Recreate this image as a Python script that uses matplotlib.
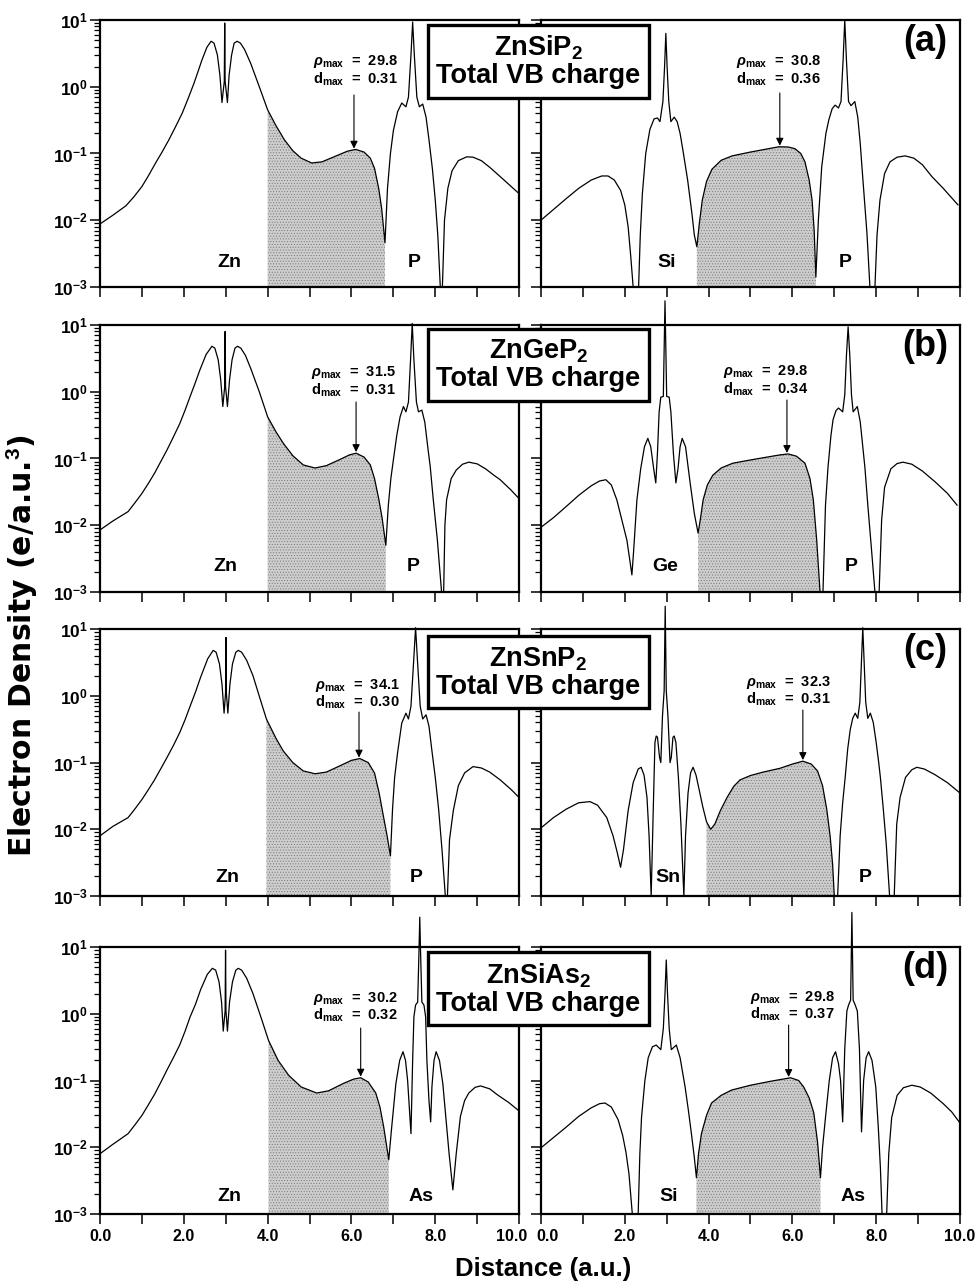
import matplotlib
matplotlib.use("Agg")
import matplotlib.pyplot as plt
import matplotlib.transforms as mtransforms
from matplotlib.ticker import FixedLocator, NullFormatter, FixedFormatter
import numpy as np

plt.rcParams['font.family'] = ['Liberation Sans', 'DejaVu Sans']
plt.rcParams['font.weight'] = 'bold'
plt.rcParams['mathtext.fontset'] = 'custom'
plt.rcParams['mathtext.rm'] = 'Liberation Sans:bold'
plt.rcParams['mathtext.it'] = 'Liberation Sans:italic:bold'
plt.rcParams['mathtext.bf'] = 'Liberation Sans:bold'
plt.rcParams['hatch.linewidth'] = 0.4

# ---- data: electron density along bond paths ----
# (a) ZnSiP2
a_left_x = [0.0, 0.3, 0.62, 0.81, 1.0, 1.16, 1.32, 1.48, 1.64, 1.8, 1.96, 2.1, 2.24, 2.34, 2.43,
            2.55, 2.65, 2.72, 2.8, 2.86, 2.91, 2.965, 2.975, 2.985, 3.04, 3.08, 3.14, 3.2, 3.27,
            3.35, 3.45, 3.6, 3.8, 4.0, 4.2, 4.4, 4.6, 4.8, 5.05, 5.3, 5.6, 5.9, 6.1, 6.3, 6.45,
            6.55, 6.65, 6.72, 6.8, 6.86, 6.93, 7.0, 7.1, 7.2, 7.3, 7.36, 7.42, 7.46, 7.5, 7.56,
            7.62, 7.7, 7.78, 7.85, 7.93, 8.0, 8.06, 8.12, 8.17, 8.22, 8.3, 8.4, 8.55, 8.75, 8.9,
            9.1, 9.3, 9.5, 9.7, 10.0]
a_left_y = [0.0088, 0.0118, 0.0165, 0.0225, 0.032, 0.047, 0.071, 0.105, 0.159, 0.25, 0.40, 0.66,
            1.12, 1.7, 2.5, 3.9, 4.8, 4.5, 3.0, 1.5, 0.58, 1.2, 9.0, 1.2, 0.58, 1.5, 3.0, 4.5,
            4.8, 4.5, 3.6, 2.2, 1.0, 0.45, 0.26, 0.16, 0.11, 0.085, 0.072, 0.075, 0.09, 0.108,
            0.115, 0.105, 0.085, 0.06, 0.03, 0.015, 0.0046, 0.03, 0.1, 0.22, 0.42, 0.57, 0.5,
            0.7, 3.0, 9.3, 3.0, 0.7, 0.5, 0.55, 0.35, 0.16, 0.06, 0.02, 0.006, 0.001, 0.001,
            0.01, 0.03, 0.055, 0.078, 0.089, 0.088, 0.078, 0.062, 0.048, 0.037, 0.025]
a_right_x = [0.0, 0.3, 0.6, 0.9, 1.2, 1.45, 1.6, 1.75, 1.9, 2.0, 2.08, 2.14, 2.2, 2.33, 2.37, 2.42,
             2.5, 2.6, 2.7, 2.78, 2.84, 2.91, 2.95, 2.98, 3.01, 3.05, 3.1, 3.18, 3.25, 3.32, 3.4,
             3.5, 3.6, 3.66, 3.72, 3.78, 3.85, 3.95, 4.08, 4.3, 4.56, 5.0, 5.4, 5.68, 5.9, 6.06,
             6.2, 6.3, 6.4, 6.47, 6.52, 6.56, 6.62, 6.7, 6.8, 6.87, 6.95, 7.02, 7.1, 7.16, 7.21,
             7.25, 7.29, 7.34, 7.4, 7.49, 7.56, 7.62, 7.66, 7.72, 7.78, 7.85, 7.97, 8.02, 8.09,
             8.2, 8.33, 8.5, 8.69, 8.9, 9.1, 9.33, 9.6, 9.95]
a_right_y = [0.01, 0.0145, 0.021, 0.03, 0.04, 0.046, 0.046, 0.04, 0.028, 0.017, 0.008, 0.003,
             0.001, 0.001, 0.006, 0.025, 0.1, 0.23, 0.33, 0.34, 0.3, 0.6, 2.0, 6.3, 2.0, 0.6, 0.3,
             0.35, 0.3, 0.2, 0.1, 0.04, 0.013, 0.006, 0.004, 0.009, 0.02, 0.038, 0.058, 0.079,
             0.092, 0.105, 0.117, 0.126, 0.125, 0.118, 0.1, 0.075, 0.04, 0.02, 0.007, 0.0014,
             0.01, 0.063, 0.2, 0.32, 0.47, 0.53, 0.48, 0.6, 2.5, 10.0, 2.5, 0.6, 0.52, 0.6, 0.35,
             0.14, 0.063, 0.02, 0.0063, 0.001, 0.001, 0.006, 0.02, 0.05, 0.075, 0.088, 0.092,
             0.085, 0.068, 0.045, 0.03, 0.017]

# (b) ZnGeP2
b_left_x = [0.0, 0.3, 0.67, 0.84, 1.0, 1.15, 1.3, 1.45, 1.6, 1.75, 1.9, 2.03, 2.15, 2.27, 2.38,
            2.53, 2.67, 2.74, 2.82, 2.88, 2.93, 2.975, 2.985, 2.995, 3.04, 3.09, 3.15, 3.22, 3.28,
            3.36, 3.47, 3.6, 3.8, 4.0, 4.2, 4.37, 4.6, 4.85, 5.13, 5.4, 5.7, 5.95, 6.11, 6.3,
            6.45, 6.55, 6.65, 6.73, 6.82, 6.88, 6.94, 7.0, 7.08, 7.16, 7.24, 7.3, 7.36, 7.41,
            7.45, 7.49, 7.55, 7.6, 7.68, 7.75, 7.82, 7.88, 7.95, 8.05, 8.15, 8.2, 8.23, 8.27,
            8.38, 8.5, 8.65, 8.8, 9.0, 9.2, 9.4, 9.55, 9.8, 10.0]
b_left_y = [0.0085, 0.0115, 0.016, 0.022, 0.03, 0.042, 0.06, 0.09, 0.135, 0.21, 0.33, 0.53,
            0.85, 1.35, 2.1, 3.6, 4.8, 4.5, 3.0, 1.5, 0.6, 1.2, 8.0, 1.2, 0.6, 1.5, 3.0, 4.5, 4.8,
            4.5, 3.5, 2.2, 1.0, 0.42, 0.25, 0.17, 0.11, 0.08, 0.072, 0.078, 0.095, 0.113, 0.12,
            0.105, 0.08, 0.05, 0.025, 0.013, 0.005, 0.02, 0.05, 0.095, 0.22, 0.42, 0.6, 0.5,
            0.7, 3.0, 10.5, 3.0, 0.7, 0.5, 0.53, 0.35, 0.15, 0.075, 0.025, 0.006, 0.001, 0.001,
            0.01, 0.024, 0.05, 0.067, 0.082, 0.088, 0.083, 0.07, 0.056, 0.048, 0.034, 0.025]
b_right_x = [0.0, 0.3, 0.6, 0.9, 1.2, 1.4, 1.55, 1.68, 1.81, 1.93, 2.05, 2.12, 2.17, 2.21, 2.29,
             2.38, 2.47, 2.55, 2.62, 2.69, 2.74, 2.78, 2.82, 2.86, 2.92, 2.96, 3.0, 3.06, 3.1,
             3.16, 3.22, 3.27, 3.32, 3.37, 3.45, 3.56, 3.66, 3.75, 3.81, 3.87, 3.97, 4.1, 4.3,
             4.58, 5.0, 5.4, 5.7, 5.9, 6.1, 6.3, 6.42, 6.5, 6.58, 6.66, 6.73, 6.79, 6.85, 6.92,
             6.97, 7.04, 7.1, 7.2, 7.25, 7.29, 7.33, 7.37, 7.41, 7.45, 7.55, 7.62, 7.68, 7.73,
             7.8, 7.88, 7.97, 8.07, 8.13, 8.2, 8.35, 8.5, 8.64, 8.85, 9.1, 9.4, 9.7, 9.93]
b_right_y = [0.0093, 0.013, 0.019, 0.028, 0.039, 0.046, 0.048, 0.04, 0.024, 0.012, 0.006, 0.003,
             0.0018, 0.004, 0.024, 0.07, 0.15, 0.2, 0.15, 0.07, 0.043, 0.12, 0.5, 0.83, 0.85,
             23.0, 0.85, 0.83, 0.5, 0.12, 0.043, 0.07, 0.15, 0.2, 0.15, 0.043, 0.015, 0.0076,
             0.013, 0.024, 0.04, 0.056, 0.072, 0.085, 0.095, 0.105, 0.113, 0.117, 0.108, 0.085,
             0.05, 0.024, 0.006, 0.001, 0.001, 0.02, 0.074, 0.22, 0.38, 0.52, 0.57, 0.5, 0.9, 3.5,
             9.4, 3.5, 0.9, 0.5, 0.6, 0.35, 0.15, 0.074, 0.02, 0.005, 0.001, 0.001, 0.012, 0.037,
             0.07, 0.084, 0.088, 0.082, 0.065, 0.045, 0.03, 0.02]

# (c) ZnSnP2
c_left_x = [0.0, 0.3, 0.67, 0.84, 1.0, 1.15, 1.3, 1.45, 1.6, 1.75, 1.9, 2.03, 2.15, 2.28, 2.4,
            2.57, 2.7, 2.77, 2.85, 2.91, 2.96, 2.995, 3.005, 3.015, 3.05, 3.1, 3.16, 3.24, 3.3,
            3.38, 3.5, 3.65, 3.82, 3.97, 4.2, 4.37, 4.6, 4.85, 5.13, 5.4, 5.7, 6.0, 6.2, 6.4,
            6.55, 6.66, 6.76, 6.85, 6.93, 6.98, 7.03, 7.1, 7.2, 7.3, 7.36, 7.42, 7.48, 7.53, 7.58,
            7.64, 7.7, 7.78, 7.85, 7.92, 8.0, 8.08, 8.16, 8.24, 8.29, 8.34, 8.43, 8.55, 8.7, 8.9,
            9.1, 9.3, 9.55, 9.8, 10.0]
c_left_y = [0.008, 0.011, 0.015, 0.0205, 0.028, 0.039, 0.055, 0.081, 0.12, 0.18, 0.28, 0.44, 0.7,
            1.15, 1.9, 3.6, 4.8, 4.5, 3.0, 1.5, 0.55, 1.1, 7.5, 1.1, 0.55, 1.5, 3.0, 4.5, 4.8,
            4.5, 3.4, 2.0, 0.9, 0.45, 0.23, 0.15, 0.1, 0.075, 0.068, 0.072, 0.088, 0.108, 0.115,
            0.1, 0.07, 0.035, 0.016, 0.008, 0.004, 0.02, 0.06, 0.14, 0.39, 0.55, 0.45, 0.7, 3.0,
            10.5, 3.0, 0.7, 0.45, 0.52, 0.35, 0.15, 0.06, 0.02, 0.005, 0.001, 0.001, 0.007, 0.019,
            0.045, 0.07, 0.087, 0.083, 0.072, 0.055, 0.04, 0.03]
c_right_x = [0.0, 0.3, 0.6, 0.9, 1.17, 1.35, 1.57, 1.72, 1.82, 1.9, 1.97, 2.08, 2.2, 2.32, 2.39,
             2.46, 2.53, 2.58, 2.63, 2.68, 2.72, 2.75, 2.78, 2.83, 2.86, 2.9, 2.94, 2.965, 2.99,
             3.03, 3.08, 3.11, 3.15, 3.18, 3.22, 3.28, 3.34, 3.41, 3.45, 3.51, 3.57, 3.63, 3.7,
             3.78, 3.86, 3.95, 4.05, 4.15, 4.28, 4.44, 4.6, 4.75, 5.0, 5.3, 5.7, 6.0, 6.25, 6.45,
             6.6, 6.72, 6.82, 6.9, 6.96, 7.0, 7.08, 7.14, 7.2, 7.26, 7.32, 7.38, 7.44, 7.5, 7.56,
             7.61, 7.65, 7.68, 7.71, 7.75, 7.8, 7.86, 7.93, 8.0, 8.06, 8.1, 8.17, 8.24, 8.32,
             8.43, 8.49, 8.57, 8.7, 8.85, 8.97, 9.15, 9.4, 9.7, 10.0]
c_right_y = [0.0105, 0.015, 0.02, 0.025, 0.026, 0.023, 0.015, 0.008, 0.0045, 0.0027, 0.005,
             0.019, 0.05, 0.08, 0.085, 0.065, 0.03, 0.008, 0.001, 0.02, 0.2, 0.25, 0.24, 0.12,
             0.1, 0.5, 1.2, 22.0, 1.2, 0.5, 0.1, 0.12, 0.24, 0.25, 0.2, 0.06, 0.012, 0.001, 0.008,
             0.035, 0.07, 0.085, 0.065, 0.038, 0.022, 0.013, 0.01, 0.012, 0.019, 0.03, 0.044,
             0.055, 0.064, 0.072, 0.082, 0.095, 0.105, 0.095, 0.075, 0.045, 0.02, 0.008, 0.003,
             0.001, 0.001, 0.008, 0.025, 0.06, 0.16, 0.31, 0.46, 0.55, 0.46, 0.8, 3.5, 10.5, 3.5,
             0.8, 0.46, 0.55, 0.4, 0.2, 0.1, 0.06, 0.02, 0.006, 0.001, 0.001, 0.012, 0.03, 0.06,
             0.078, 0.085, 0.08, 0.066, 0.05, 0.035]

# (d) ZnSiAs2
d_left_x = [0.0, 0.3, 0.67, 0.84, 1.0, 1.15, 1.3, 1.45, 1.6, 1.75, 1.9, 2.03, 2.15, 2.28, 2.4,
            2.56, 2.68, 2.76, 2.84, 2.9, 2.94, 2.985, 2.995, 3.005, 3.04, 3.09, 3.16, 3.24, 3.3,
            3.38, 3.5, 3.65, 3.85, 4.02, 4.25, 4.5, 4.8, 5.17, 5.45, 5.8, 6.05, 6.22, 6.4, 6.58,
            6.68, 6.77, 6.89, 6.96, 7.06, 7.15, 7.23, 7.29, 7.34, 7.38, 7.42, 7.46, 7.49, 7.53,
            7.58, 7.61, 7.63, 7.65, 7.68, 7.73, 7.77, 7.8, 7.85, 7.89, 7.92, 7.97, 8.02, 8.1,
            8.18, 8.25, 8.33, 8.42, 8.5, 8.6, 8.7, 8.8, 8.95, 9.08, 9.3, 9.5, 9.75, 10.0]
d_left_y = [0.008, 0.011, 0.016, 0.022, 0.03, 0.043, 0.062, 0.094, 0.145, 0.22, 0.34, 0.55, 0.9,
            1.4, 2.3, 3.9, 4.8, 4.5, 3.0, 1.5, 0.55, 1.1, 9.0, 1.1, 0.55, 1.5, 3.0, 4.5, 4.8, 4.5,
            3.4, 2.0, 0.85, 0.4, 0.2, 0.12, 0.08, 0.065, 0.07, 0.09, 0.105, 0.11, 0.095, 0.065,
            0.04, 0.02, 0.0065, 0.02, 0.09, 0.2, 0.27, 0.2, 0.1, 0.04, 0.016, 0.2, 0.9, 1.35,
            1.5, 8.0, 28.0, 8.0, 1.5, 1.35, 0.9, 0.2, 0.05, 0.024, 0.08, 0.2, 0.27, 0.2, 0.09,
            0.029, 0.008, 0.0023, 0.008, 0.029, 0.05, 0.065, 0.079, 0.083, 0.075, 0.06, 0.047,
            0.035]
d_right_x = [0.0, 0.3, 0.6, 0.9, 1.2, 1.4, 1.53, 1.68, 1.84, 1.95, 2.03, 2.1, 2.18, 2.32, 2.36,
             2.4, 2.48, 2.56, 2.66, 2.75, 2.86, 2.92, 2.96, 2.99, 3.02, 3.06, 3.11, 3.23, 3.32,
             3.44, 3.52, 3.59, 3.66, 3.71, 3.76, 3.83, 3.95, 4.07, 4.3, 4.55, 5.0, 5.5, 5.96,
             6.15, 6.27, 6.4, 6.51, 6.6, 6.67, 6.72, 6.79, 6.88, 6.96, 7.03, 7.1, 7.15, 7.2, 7.25,
             7.3, 7.34, 7.39, 7.42, 7.45, 7.5, 7.55, 7.6, 7.65, 7.7, 7.76, 7.82, 7.9, 7.99, 8.05,
             8.1, 8.14, 8.25, 8.3, 8.37, 8.5, 8.65, 8.85, 9.05, 9.3, 9.6, 9.8, 9.98]
d_right_y = [0.0098, 0.014, 0.02, 0.029, 0.039, 0.045, 0.046, 0.04, 0.026, 0.015, 0.0083, 0.004,
             0.001, 0.001, 0.008, 0.028, 0.1, 0.22, 0.32, 0.34, 0.29, 0.6, 2.0, 6.4, 2.0, 0.6,
             0.29, 0.34, 0.22, 0.08, 0.035, 0.016, 0.007, 0.0035, 0.008, 0.016, 0.03, 0.046, 0.06,
             0.072, 0.085, 0.098, 0.11, 0.1, 0.08, 0.055, 0.033, 0.012, 0.0035, 0.01, 0.028, 0.1,
             0.22, 0.27, 0.18, 0.1, 0.024, 0.3, 1.1, 1.35, 1.6, 33.0, 1.6, 1.35, 1.1, 0.3, 0.017,
             0.1, 0.22, 0.27, 0.2, 0.08, 0.02, 0.005, 0.001, 0.001, 0.008, 0.028, 0.06, 0.078,
             0.085, 0.08, 0.065, 0.045, 0.034, 0.024]

compounds = ['ZnSiP$_2$', 'ZnGeP$_2$', 'ZnSnP$_2$', 'ZnSiAs$_2$']
panel_tags = ['(a)', '(b)', '(c)', '(d)']
rho_max = [(29.8, 30.8), (31.5, 29.8), (34.1, 32.3), (30.2, 29.8)]
d_max = [('0.31', '0.36'), ('0.31', '0.34'), ('0.30', '0.31'), ('0.32', '0.37')]
atoms = [(('Zn', 'P'), ('Si', 'P')), (('Zn', 'P'), ('Ge', 'P')),
         (('Zn', 'P'), ('Sn', 'P')), (('Zn', 'As'), ('Si', 'As'))]
shade = [((4.0, 6.8), (3.72, 6.56)), ((4.0, 6.82), (3.75, 6.66)),
         ((3.97, 6.93), (3.95, 7.0)), ((4.02, 6.89), (3.71, 6.67))]
curves = [((a_left_x, a_left_y), (a_right_x, a_right_y)),
          ((b_left_x, b_left_y), (b_right_x, b_right_y)),
          ((c_left_x, c_left_y), (c_right_x, c_right_y)),
          ((d_left_x, d_left_y), (d_right_x, d_right_y))]

# ---- layout (pixel-derived) ----
row_bottoms = [0.7760, 0.5379, 0.3005, 0.0523]
ax_h = 0.2084
ax_w = 0.4289
col_left = [0.1024, 0.5537]
arrow_x = [(6.06, 5.7), (6.11, 5.87), (6.18, 6.25), (6.22, 5.91)]
text_x = [(6.1, 5.67), (6.05, 5.35), (6.15, 5.9), (6.1, 6.0)]
text_dy = [(42, 42), (48, 47), (56, 53), (51, 50)]
arrow_dy = [(75, 73), (77, 75), (83, 81), (81, 78)]
atom_x = [((3.08, 7.5), (3.0, 7.25)), ((3.0, 7.47), (2.96, 7.4)),
          ((3.05, 7.55), (3.03, 7.73)), ((3.09, 7.65), (3.04, 7.44))]
atom_dy = [24, 25, 19, 18]
box_y = [0.952, 0.715, 0.475, 0.228]
AXPX = 267.0

fig = plt.figure(figsize=(9.77, 12.81), dpi=100)
major_y = [1e-3, 1e-2, 1e-1, 1e0, 1e1]
minor_y = [m * 10.0 ** e for e in range(-3, 1) for m in range(2, 10)]
ylabels = [r'$10^{-3}$', r'$10^{-2}$', r'$10^{-1}$', r'$10^{0}$', r'$10^{1}$']
bottom_axes = []

for r in range(4):
    for c in range(2):
        ax = fig.add_axes([col_left[c], row_bottoms[r], ax_w, ax_h])
        xs = np.array(curves[r][c][0])
        ys = np.array(curves[r][c][1])
        ax.set_yscale('log')
        ax.set_xlim(0, 10)
        ax.set_ylim(1e-3, 1e1)
        lo, hi = shade[r][c]
        m = (xs >= lo - 1e-9) & (xs <= hi + 1e-9)
        ax.fill_between(xs[m], ys[m], 1e-3, facecolor='#cdcdcd', edgecolor='#777777',
                        hatch='......', linewidth=0, zorder=1)
        ax.plot(xs, ys, color='black', lw=0.9, clip_on=False, zorder=3)

        # ticks
        ax.yaxis.set_major_locator(FixedLocator(major_y))
        ax.yaxis.set_minor_locator(FixedLocator(minor_y))
        ax.yaxis.set_minor_formatter(NullFormatter())
        if c == 0:
            ax.yaxis.set_major_formatter(FixedFormatter(ylabels))
        else:
            ax.yaxis.set_major_formatter(NullFormatter())
        ax.xaxis.set_major_locator(FixedLocator([0, 2, 4, 6, 8, 10]))
        ax.xaxis.set_minor_locator(FixedLocator([1, 3, 5, 7, 9]))
        if r == 3:
            ax.xaxis.set_major_formatter(FixedFormatter(['0.0', '2.0', '4.0', '6.0', '8.0', '10.0']))
            bottom_axes.append(ax)
        else:
            ax.xaxis.set_major_formatter(NullFormatter())
        ax.tick_params(axis='both', which='major', direction='out', length=7, width=1.1, pad=2)
        ax.tick_params(axis='x', which='major', labelsize=11.5, pad=4)
        ax.tick_params(axis='y', which='major', labelsize=12.5)
        ax.tick_params(axis='y', which='minor', direction='out', length=4, width=0.9)
        ax.tick_params(axis='x', which='minor', direction='out', length=7, width=1.1)
        for lab in ax.get_xticklabels() + ax.get_yticklabels():
            lab.set_fontweight('bold')
        for sp in ax.spines.values():
            sp.set_linewidth(1.6)

        # annotation
        trans = mtransforms.blended_transform_factory(ax.transData, ax.transAxes)
        ax_x = arrow_x[r][c]
        y_peak = 10 ** np.interp(ax_x, xs, np.log10(ys))
        y_start = 10 ** (1 - arrow_dy[r][c] / AXPX * 4)
        ax.annotate('', xy=(ax_x, y_peak * 1.04), xytext=(ax_x, y_start),
                    arrowprops=dict(arrowstyle='-|>', color='black', lw=0.8,
                                    mutation_scale=11, shrinkA=0, shrinkB=0), zorder=4)
        ty1 = 1 - text_dy[r][c] / AXPX
        ty2 = 1 - (text_dy[r][c] + 17) / AXPX
        ax.text(text_x[r][c], ty1, r'$\rho_{\mathrm{max}}$  =  %.1f' % rho_max[r][c],
                transform=trans, ha='center', va='center', fontsize=10.5, fontweight='bold')
        ax.text(text_x[r][c], ty2, r'd$_{\mathrm{max}}$  =  %s' % d_max[r][c],
                transform=trans, ha='center', va='center', fontsize=10.5, fontweight='bold')

        # atom labels
        for name, xa in zip(atoms[r][c], atom_x[r][c]):
            ax.text(xa, atom_dy[r] / AXPX, name, transform=trans, ha='center', va='center',
                    fontsize=14, fontweight='bold')
        if c == 1:
            ax.text(0.917, 0.918, panel_tags[r], transform=ax.transAxes, ha='center',
                    va='center', fontsize=26, fontweight='bold')

    fig.text(0.551, box_y[r], compounds[r] + '\nTotal VB charge', ha='center', va='center',
             fontsize=19.5, fontweight='bold', linespacing=1.05, zorder=10,
             bbox=dict(boxstyle='square,pad=0.32', facecolor='white', edgecolor='black',
                       linewidth=2.4))

# nudge the two tick labels that meet in the gap apart
left_last = bottom_axes[0].xaxis.get_major_ticks()[-1].label1
left_last.set_transform(left_last.get_transform()
                        + mtransforms.ScaledTranslation(-0.07, 0, fig.dpi_scale_trans))
right_first = bottom_axes[1].xaxis.get_major_ticks()[0].label1
right_first.set_transform(right_first.get_transform()
                          + mtransforms.ScaledTranslation(0.07, 0, fig.dpi_scale_trans))

fig.text(0.0225, 0.496, 'Electron Density (e/a.u.$^3$)', rotation=90, ha='center',
         va='center', fontsize=21.5, fontweight='bold', family='DejaVu Sans')
fig.text(0.556, 0.0094, 'Distance (a.u.)', ha='center', va='center', fontsize=18.5,
         fontweight='bold')

fig.savefig('out.png', dpi=100)
